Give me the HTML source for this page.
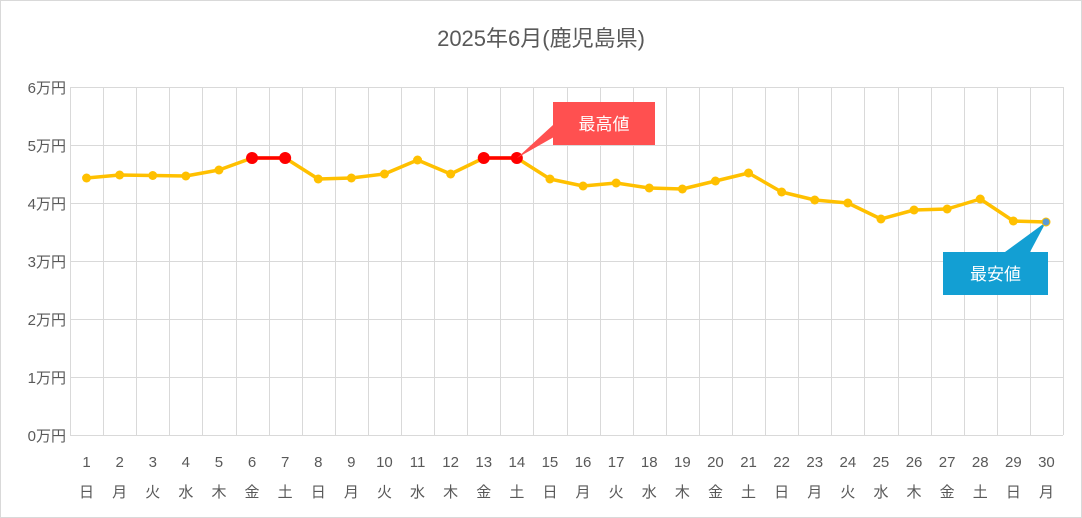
<!DOCTYPE html>
<html><head><meta charset="utf-8"><style>
html,body{margin:0;padding:0;background:#fff}
svg{display:block;font-family:"Liberation Sans","Noto Sans CJK JP",sans-serif}
</style></head><body>
<svg width="1082" height="518" viewBox="0 0 1082 518" xmlns="http://www.w3.org/2000/svg">
<rect x="0.5" y="0.5" width="1081" height="517" fill="#fff" stroke="#d9d9d9"/>
<text x="541" y="46" text-anchor="middle" font-size="22" fill="#595959">2025年6月(鹿児島県)</text>
<g id="grid" stroke="#d9d9d9" stroke-width="1"></g>
<g id="lab" font-size="15" fill="#595959"></g>
<polyline id="line" fill="none" stroke="#ffc000" stroke-width="3.5" stroke-linejoin="round"/>
<g id="pts"></g>
<polygon points="553,125 575,125 517,158" fill="#ff5050"/>
<rect x="553" y="102" width="102" height="43" fill="#ff5050"/>
<text x="604" y="130" text-anchor="middle" font-size="17" fill="#fff">最高値</text>
<polygon points="1005,252 1030,252 1046,222" fill="#139fd3"/>
<rect x="943" y="252" width="105" height="43" fill="#139fd3"/>
<text x="995.5" y="280" text-anchor="middle" font-size="17" fill="#fff">最安値</text>
<circle cx="1046" cy="222" r="4" fill="#5b9bd5" stroke="#ffc000" stroke-width="1"/>
</svg>
<script>
const ns="http://www.w3.org/2000/svg";
const g=document.getElementById('grid'),lab=document.getElementById('lab');
function el(t,a,p,txt){const e=document.createElementNS(ns,t);for(const k in a)e.setAttribute(k,a[k]);if(txt!=null)e.textContent=txt;p.appendChild(e);return e;}
const L=70,R=1063,T=87,B=435;
for(let i=0;i<=6;i++){const y=T+i*58;el('line',{x1:L,x2:R,y1:y+.5,y2:y+.5},g);
 el('text',{x:66,y:y+6,'text-anchor':'end'},lab,(6-i)+'万円');}
const w=(R-L)/30;
for(let i=0;i<=30;i++){const x=Math.round(L+i*w)+.5;el('line',{x1:x,x2:x,y1:T,y2:B},g);}
const days=['日','月','火','水','木','金','土'];
const ys=[178,175,175.5,176,170,158,158,179,178,174,160,174,158,158,179,186,183,188,189,181,173,192,200,203,219,210,209,199,221,222];
let pts=[];
for(let i=0;i<30;i++){const x=L+w*(i+.5);pts.push(x+','+ys[i]);
 el('text',{x:x,y:467,'text-anchor':'middle'},lab,String(i+1));
 el('text',{x:x,y:497,'text-anchor':'middle'},lab,days[i%7]);}
document.getElementById('line').setAttribute('points',pts.join(' '));
const P=document.getElementById('pts');
for(let i=0;i<29;i++){const x=L+w*(i+.5);el('circle',{cx:x,cy:ys[i],r:4.5,fill:'#ffc000'},P);}
[[5,6],[12,13]].forEach(([a,b])=>{const xa=L+w*(a+.5),xb=L+w*(b+.5);
 el('line',{x1:xa,x2:xb,y1:158,y2:158,stroke:'#ff0000','stroke-width':3.5},P);
 el('circle',{cx:xa,cy:158,r:6,fill:'#ff0000'},P);el('circle',{cx:xb,cy:158,r:6,fill:'#ff0000'},P);});
</script>
</body></html>
